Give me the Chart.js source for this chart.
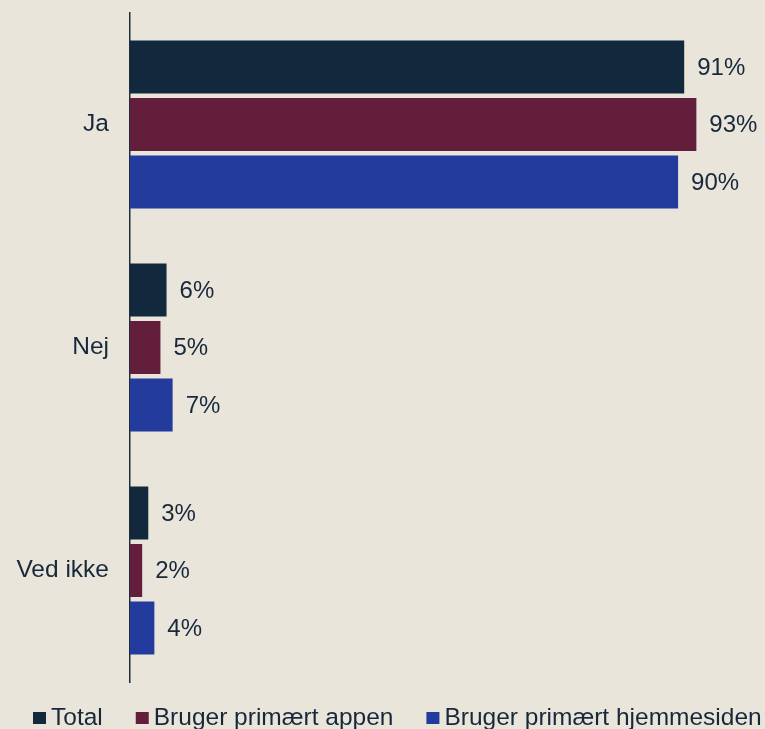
<!DOCTYPE html>
<html>
<head>
<meta charset="utf-8">
<script src="https://cdn.jsdelivr.net/npm/chart.js@4"></script>
<style>
html,body{margin:0;padding:0;background:#EAE5DB;}
#wrap{width:765px;height:729px;position:relative;}
</style>
</head>
<body>
<div id="wrap"><canvas id="c" width="765" height="729"></canvas></div>
<script>
const categories = ["Ja", "Nej", "Ved ikke"];
const seriesNames = ["Total", "Bruger primært appen", "Bruger primært hjemmesiden"];
const totalValues = [91, 6, 3];
const appValues = [93, 5, 2];
const webValues = [90, 7, 4];
const seriesColors = ["#12293D", "#631E3C", "#233B9D"];
const textColor = "#17283A";
const FONT = "'Liberation Sans', Arial, sans-serif";

const bgPlugin = {
  id: 'bg',
  beforeDraw(chart) {
    const ctx = chart.ctx;
    ctx.save();
    ctx.fillStyle = '#EAE5DB';
    ctx.fillRect(0, 0, chart.width, chart.height);
    ctx.restore();
  }
};

const labelPlugin = {
  id: 'valLabels',
  afterDatasetsDraw(chart) {
    const ctx = chart.ctx;
    ctx.save();
    ctx.font = "24px " + FONT;
    ctx.fillStyle = textColor;
    ctx.textAlign = 'left';
    ctx.textBaseline = 'middle';
    chart.data.datasets.forEach((ds, i) => {
      const meta = chart.getDatasetMeta(i);
      meta.data.forEach((bar, j) => {
        ctx.fillText(ds.data[j] + '%', bar.x + 13, bar.y + 1);
      });
    });
    ctx.restore();
  }
};

const legendPlugin = {
  id: 'customLegend',
  afterDraw(chart) {
    const ctx = chart.ctx;
    ctx.save();
    ctx.font = "24.5px " + FONT;
    ctx.textBaseline = 'alphabetic';
    ctx.textAlign = 'left';
    let x = 33;
    const yBox = 712, box = 13, baseline = 725;
    chart.data.datasets.forEach((ds, i) => {
      ctx.fillStyle = ds.backgroundColor;
      ctx.fillRect(x, yBox, box, box - 1);
      x += box + 5;
      ctx.fillStyle = textColor;
      ctx.fillText(ds.label, x, baseline);
      x += ctx.measureText(ds.label).width + 33;
    });
    ctx.restore();
  }
};

new Chart(document.getElementById('c'), {
  type: 'bar',
  data: {
    labels: categories,
    datasets: [
      { label: seriesNames[0], data: totalValues, backgroundColor: seriesColors[0] },
      { label: seriesNames[1], data: appValues, backgroundColor: seriesColors[1] },
      { label: seriesNames[2], data: webValues, backgroundColor: seriesColors[2] }
    ]
  },
  options: {
    indexAxis: 'y',
    responsive: false,
    animation: false,
    devicePixelRatio: 1,
    layout: { padding: { top: 13, bottom: 47, left: 0, right: 26 } },
    datasets: { bar: { categoryPercentage: 0.775, barPercentage: 0.92 } },
    plugins: { legend: { display: false }, tooltip: { enabled: false } },
    scales: {
      x: { display: false, min: 0, max: 100 },
      y: {
        afterFit(scale) { scale.width = 130; scale.paddingTop = 0; scale.paddingBottom = 0; },
        grid: { display: false, drawTicks: false },
        border: { display: true, color: '#1F2D3D', width: 1.5 },
        ticks: { color: textColor, font: { family: FONT, size: 24.5 }, padding: 21 }
      }
    }
  },
  plugins: [bgPlugin, labelPlugin, legendPlugin]
});
</script>
</body>
</html>
